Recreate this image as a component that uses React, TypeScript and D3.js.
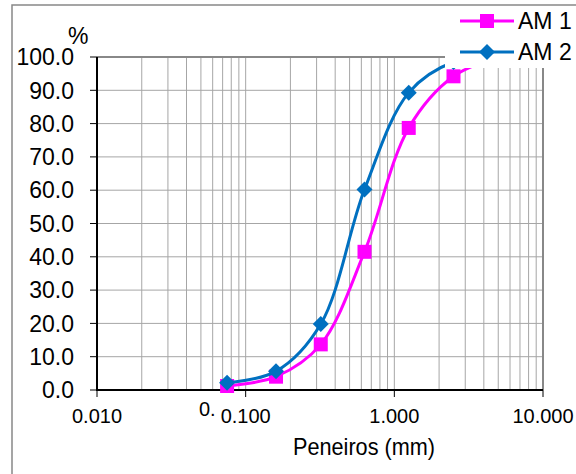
import * as d3 from "d3";

const sieves = [0.075, 0.16, 0.32, 0.63, 1.25, 2.5, 5];
const am1 = [1.2, 4.0, 13.7, 41.5, 78.7, 94.2, 100];
const am2 = [2.2, 5.6, 19.8, 60.2, 89.3, 98.5, 100];
const xTicks = [0.01, 0.1, 1, 10];
const yTicks = [0, 10, 20, 30, 40, 50, 60, 70, 80, 90, 100];

const W = 576;
const H = 474;
const M = { left: 97, right: 543, top: 57, bottom: 390 };
const FONT = "'Liberation Sans', Arial, sans-serif";

const x = d3.scaleLog().domain([0.01, 10]).range([M.left, M.right]);
const y = d3.scaleLinear().domain([0, 100]).range([M.bottom, M.top]);

// minor grid: 1..9 per decade
const gridX = d3.range(-2, 1).flatMap((e) =>
  d3.range(1, 10).map((k) => k * Math.pow(10, e))
);

const line = d3
  .line<number>()
  .x((_, i) => x(sieves[i]))
  .y((d) => y(d))
  .curve(d3.curveCatmullRom.alpha(0.5));

const series = [
  { name: "AM 1", values: am1, color: "#ff00ff", marker: "square" },
  { name: "AM 2", values: am2, color: "#0070c0", marker: "diamond" },
];

const Marker = ({ kind, cx, cy, color }) =>
  kind === "square" ? (
    <rect x={cx - 7} y={cy - 7} width={14} height={14} fill={color} />
  ) : (
    <path
      d={`M${cx},${cy - 8}L${cx + 8},${cy}L${cx},${cy + 8}L${cx - 8},${cy}Z`}
      fill={color}
    />
  );

export default function App() {
  return (
    <svg
      width={W}
      height={H}
      style={{ position: "absolute", left: 0, top: 0, background: "#fff" }}
      fontFamily={FONT}
    >
      <rect width={W} height={H} fill="#fff" />
      {/* outer chart frame */}
      <path d={`M12,${H}V5H${W}`} fill="none" stroke="#888" strokeWidth={1.5} />

      {/* grid */}
      {gridX.map((v, i) => (
        <line key={"gx" + i} x1={x(v)} x2={x(v)} y1={M.top} y2={M.bottom} stroke="#a6a6a6" strokeWidth={1} />
      ))}
      {yTicks.map((v) => (
        <line key={"gy" + v} x1={M.left} x2={M.right} y1={y(v)} y2={y(v)} stroke="#a6a6a6" strokeWidth={1} />
      ))}
      <line x1={M.left} x2={M.right} y1={M.top} y2={M.top} stroke="#888" strokeWidth={2} />
      <line x1={M.right} x2={M.right} y1={M.top} y2={M.bottom} stroke="#888" strokeWidth={2} />

      {/* axes */}
      <line x1={M.left} x2={M.left} y1={M.top} y2={M.bottom + 1} stroke="#000" strokeWidth={2} />
      <line x1={M.left - 1} x2={M.right} y1={M.bottom} y2={M.bottom} stroke="#000" strokeWidth={2} />
      {yTicks.map((v) => (
        <g key={"ty" + v}>
          <line x1={M.left - 7} x2={M.left} y1={y(v)} y2={y(v)} stroke="#000" strokeWidth={1} />
          <text x={74} y={y(v)} dy="0.36em" textAnchor="end" fontSize={23}>
            {d3.format(".1f")(v)}
          </text>
        </g>
      ))}
      {xTicks.map((v) => (
        <g key={"tx" + v}>
          <line x1={x(v)} x2={x(v)} y1={M.bottom} y2={M.bottom + 7} stroke="#000" strokeWidth={1} />
          <text x={x(v)} y={423} textAnchor="middle" fontSize={20}>
            {d3.format(".3f")(v)}
          </text>
        </g>
      ))}
      <text x={199} y={416} fontSize={20}>0.</text>
      <text x={68} y={44} fontSize={23}>%</text>
      <text x={364} y={455} textAnchor="middle" fontSize={24} textLength={142} lengthAdjust="spacingAndGlyphs">
        Peneiros (mm)
      </text>

      {/* series */}
      {series.map((s) => (
        <g key={s.name}>
          <path d={line(s.values) ?? ""} fill="none" stroke={s.color} strokeWidth={3} />
          {s.values.map((v, i) => (
            <Marker key={i} kind={s.marker} cx={x(sieves[i])} cy={y(v)} color={s.color} />
          ))}
        </g>
      ))}

      {/* legend */}
      <rect x={445} y={6} width={W - 445} height={62} fill="#fff" />
      {series.map((s, i) => {
        const ly = 21 + i * 31;
        return (
          <g key={"lg" + s.name}>
            <line x1={460} x2={514} y1={ly} y2={ly} stroke={s.color} strokeWidth={3} />
            <Marker kind={s.marker} cx={487} cy={ly} color={s.color} />
            <text x={518} y={ly + 8} fontSize={23}>
              {s.name}
            </text>
          </g>
        );
      })}
    </svg>
  );
}
